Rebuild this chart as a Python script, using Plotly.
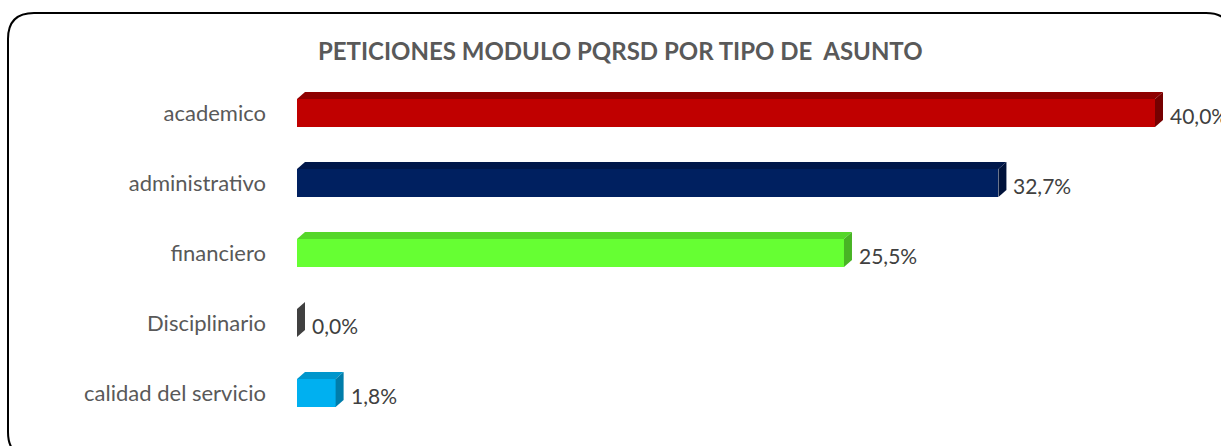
import plotly.graph_objects as go

categories = ["academico", "administrativo", "financiero", "Disciplinario", "calidad del servicio"]
values = [40.0, 32.7, 25.5, 0.0, 1.8]
labels = ["40,0%", "32,7%", "25,5%", "0,0%", "1,8%"]
front_colors = ["#C00000", "#002060", "#66FF33", "#595959", "#00B0F0"]
top_colors = ["#8E0000", "#00174A", "#55D62A", "#4A4A4A", "#0096CC"]
side_colors = ["#760000", "#00123A", "#48B424", "#404040", "#007DAA"]
title = "PETICIONES MODULO PQRSD POR TIPO DE  ASUNTO"

W, H = 1221, 446
ML, MR, MT, MB = 297, 0, 78, 18
pw = W - ML - MR
ph = H - MT - MB
xmax = pw / 21.45
pos = list(range(len(categories)))
bw = 0.4
dx = 8 / 21.45
dy = 7 / 70.0

fig = go.Figure()
fig.add_trace(go.Bar(
    y=pos, x=values, orientation="h", width=bw,
    marker=dict(color=front_colors, line=dict(width=0)),
    hoverinfo="skip", showlegend=False,
))
for p, v, tc, sc in zip(pos, values, top_colors, side_colors):
    y0 = p - bw / 2
    y1 = p + bw / 2
    if v > 0:
        fig.add_trace(go.Scatter(
            x=[0, v, v + dx, dx, 0], y=[y0, y0, y0 - dy, y0 - dy, y0],
            fill="toself", fillcolor=tc, mode="lines", line=dict(width=0, color=tc),
            hoverinfo="skip", showlegend=False,
        ))
    fig.add_trace(go.Scatter(
        x=[v, v + dx, v + dx, v, v], y=[y0, y0 - dy, y1 - dy, y1, y0],
        fill="toself", fillcolor=sc, mode="lines", line=dict(width=0, color=sc),
        hoverinfo="skip", showlegend=False,
    ))

for p, v, t in zip(pos, values, labels):
    fig.add_annotation(x=v + dx, y=p, text=t, showarrow=False,
                       xanchor="left", yanchor="middle", xshift=5, yshift=-2,
                       font=dict(family="Lato", size=21, color="#404040"))

def px2x(px):
    return (px - ML) / pw

def py2y(py):
    return (H - MB - py) / ph

L, T, R, B, r = 8, 13, 1232, 458, 26
path = (f"M {px2x(L + r)} {py2y(T)} L {px2x(R - r)} {py2y(T)} "
        f"Q {px2x(R)} {py2y(T)} {px2x(R)} {py2y(T + r)} "
        f"L {px2x(R)} {py2y(B - r)} Q {px2x(R)} {py2y(B)} {px2x(R - r)} {py2y(B)} "
        f"L {px2x(L + r)} {py2y(B)} Q {px2x(L)} {py2y(B)} {px2x(L)} {py2y(B - r)} "
        f"L {px2x(L)} {py2y(T + r)} Q {px2x(L)} {py2y(T)} {px2x(L + r)} {py2y(T)} Z")
fig.add_shape(type="path", path=path, xref="paper", yref="paper",
              line=dict(color="#000000", width=2), fillcolor="rgba(0,0,0,0)", layer="above")

fig.update_layout(
    width=W, height=H,
    margin=dict(l=ML, r=MR, t=MT, b=MB),
    paper_bgcolor="white", plot_bgcolor="white",
    title=dict(text=f"<b>{title}</b>", x=0.508, xanchor="center", y=0.885, yanchor="middle",
               font=dict(family="Lato", size=24, color="#595959")),
    xaxis=dict(range=[0, xmax], visible=False, fixedrange=True),
    yaxis=dict(range=[4.5, -0.5], tickvals=pos, ticktext=categories,
               showgrid=False, zeroline=False, showline=False, ticks="",
               ticklabelstandoff=30,
               tickfont=dict(family="Lato", size=22, color="#595959"), fixedrange=True),
    bargap=0,
)

fig.write_html("out.html", config={"displayModeBar": False},
               post_script="document.body.style.margin='0px';")
